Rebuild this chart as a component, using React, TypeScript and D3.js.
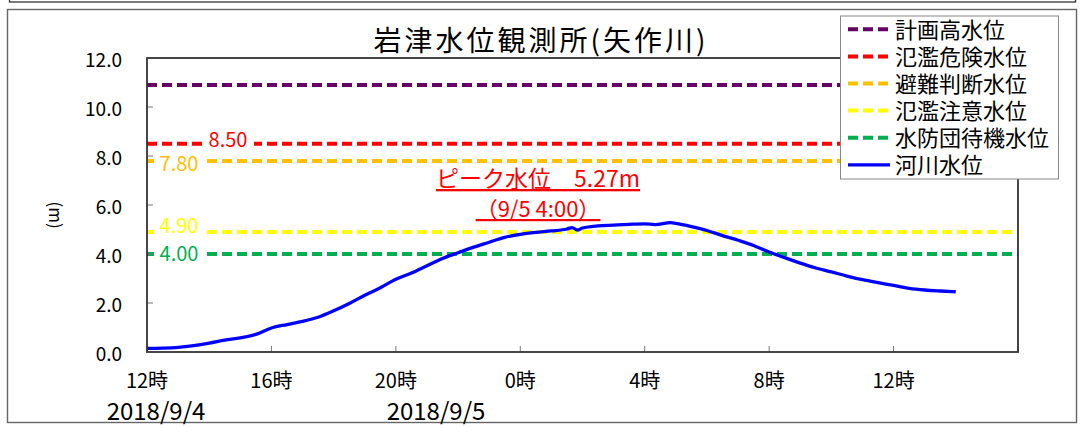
import React, { useEffect, useRef } from 'react';
import * as d3 from 'd3';

// river level observations (time, m)
const times = [
  '9/4 12:00', '9/4 12:30', '9/4 13:00', '9/4 13:30', '9/4 14:00', '9/4 14:30',
  '9/4 15:00', '9/4 15:30', '9/4 16:00', '9/4 16:30', '9/4 17:00', '9/4 17:30',
  '9/4 18:00', '9/4 18:30', '9/4 19:00', '9/4 19:30', '9/4 20:00', '9/4 20:30',
  '9/4 21:00', '9/4 21:30', '9/4 22:00', '9/4 22:30', '9/4 23:00', '9/4 23:30',
  '9/5 0:00', '9/5 0:30', '9/5 1:00', '9/5 1:30', '9/5 1:40', '9/5 1:50',
  '9/5 2:00', '9/5 2:30', '9/5 3:00', '9/5 3:30', '9/5 4:00', '9/5 4:20',
  '9/5 4:50', '9/5 5:00', '9/5 5:30', '9/5 6:00', '9/5 6:30', '9/5 7:00',
  '9/5 7:30', '9/5 8:00', '9/5 8:30', '9/5 9:00', '9/5 9:30', '9/5 10:00',
  '9/5 10:30', '9/5 11:00', '9/5 11:30', '9/5 12:00', '9/5 12:30', '9/5 13:00',
  '9/5 13:30', '9/5 14:00',
];
const levels = [
  0.15, 0.16, 0.19, 0.26, 0.36, 0.48,
  0.58, 0.72, 0.98, 1.12, 1.25, 1.42,
  1.68, 1.98, 2.32, 2.62, 2.97, 3.22,
  3.52, 3.82, 4.05, 4.28, 4.48, 4.68,
  4.8, 4.88, 4.94, 5.02, 5.08, 4.98,
  5.06, 5.15, 5.18, 5.21, 5.23, 5.2,
  5.28, 5.25, 5.12, 4.96, 4.75, 4.56,
  4.35, 4.08, 3.85, 3.63, 3.43, 3.27,
  3.1, 2.95, 2.83, 2.72, 2.6, 2.53,
  2.49, 2.46,
];

// reference levels
const thresholdNames = ['計画高水位', '氾濫危険水位', '避難判断水位', '氾濫注意水位', '水防団待機水位'];
const thresholdValues = [10.9, 8.5, 7.8, 4.9, 4.0];
const thresholdLabels = ['', '8.50', '7.80', '4.90', '4.00'];
const thresholdColors = ['#660066', '#ff0000', '#ffc000', '#ffff00', '#00b050'];
// label placement (x centre, vertical nudge)
const labelX = [0, 228, 179, 179, 179];
const labelDy = [0, -4, 3, -6, 0];

const riverName = '河川水位';
const riverColor = '#0000ff';

const yTicks = [0, 2, 4, 6, 8, 10, 12];
const xTickLabels = ['12時', '16時', '20時', '0時', '4時', '8時', '12時'];
const dateLabels = ['2018/9/4', '2018/9/5'];
const title = '岩津水位観測所(矢作川)';
const peakText = 'ピーク水位　5.27m';
const peakTimeText = '（9/5 4:00）';

const FONT = '"Noto Sans CJK JP", "Noto Sans", sans-serif';

function App() {
  const svgRef = useRef<SVGSVGElement>(null);

  useEffect(() => {
    const svg = d3.select(svgRef.current);
    svg.selectAll('*').remove();

    const parse = d3.timeParse('%Y/%m/%d %H:%M');
    const data = times.map((t, i) => ({ t: parse('2018/' + t) as Date, v: levels[i] }));

    const left = 147;
    const right = 1018;
    const top = 58;
    const bottom = 352;

    const x = d3
      .scaleTime()
      .domain([parse('2018/9/4 12:00') as Date, parse('2018/9/5 16:00') as Date])
      .range([left, right]);
    const y = d3.scaleLinear().domain([0, 12]).range([bottom, top]);

    svg.append('rect').attr('width', 1081).attr('height', 428).attr('fill', '#fff');

    // frames
    svg
      .append('rect')
      .attr('x', 9.5)
      .attr('y', -20)
      .attr('width', 1066)
      .attr('height', 22)
      .attr('fill', 'none')
      .attr('stroke', '#333')
      .attr('stroke-width', 1.3);
    svg
      .append('rect')
      .attr('x', 7.5)
      .attr('y', 9.5)
      .attr('width', 1069)
      .attr('height', 413)
      .attr('fill', 'none')
      .attr('stroke', '#666')
      .attr('stroke-width', 1.4);

    // title
    svg
      .append('text')
      .attr('x', 541)
      .attr('y', 51)
      .attr('text-anchor', 'middle')
      .style('font-family', FONT)
      .style('font-size', '28px')
      .style('letter-spacing', '3px')
      .style('fill', '#000')
      .text(title);

    // threshold lines
    thresholdValues.forEach((v, i) => {
      svg
        .append('line')
        .attr('x1', left)
        .attr('x2', right)
        .attr('y1', y(v))
        .attr('y2', y(v))
        .attr('stroke', thresholdColors[i])
        .attr('stroke-width', 4)
        .attr('stroke-dasharray', '10,5');
      if (thresholdLabels[i]) {
        svg
          .append('rect')
          .attr('x', labelX[i] - 25)
          .attr('y', y(v) - 6)
          .attr('width', 51)
          .attr('height', 12)
          .attr('fill', '#fff');
        svg
          .append('text')
          .attr('x', labelX[i])
          .attr('y', y(v) + labelDy[i] + 7)
          .attr('text-anchor', 'middle')
          .style('font-family', FONT)
          .style('font-size', '20px')
          .style('fill', thresholdColors[i])
          .text(thresholdLabels[i]);
      }
    });

    // river level
    const line = d3
      .line<{ t: Date; v: number }>()
      .x((d) => x(d.t))
      .y((d) => y(d.v))
      .curve(d3.curveMonotoneX);
    svg
      .append('path')
      .datum(data)
      .attr('d', line)
      .attr('fill', 'none')
      .attr('stroke', riverColor)
      .attr('stroke-width', 3.3);

    // axes ticks
    yTicks.forEach((t) => {
      if (t > 0 && t < 12) {
        svg
          .append('line')
          .attr('x1', left)
          .attr('x2', left + 6)
          .attr('y1', y(t))
          .attr('y2', y(t))
          .attr('stroke', '#777')
          .attr('stroke-width', 1);
      }
      svg
        .append('text')
        .attr('x', 122)
        .attr('y', y(t) + 9)
        .attr('text-anchor', 'end')
        .style('font-family', FONT)
        .style('font-size', '19px')
        .style('fill', '#000')
        .text(t.toFixed(1));
    });

    const xTicks = x.ticks(d3.timeHour.every(4) as d3.TimeInterval);
    xTicks.forEach((t, i) => {
      svg
        .append('line')
        .attr('x1', x(t))
        .attr('x2', x(t))
        .attr('y1', bottom)
        .attr('y2', bottom - 6)
        .attr('stroke', '#777')
        .attr('stroke-width', 1);
      if (xTickLabels[i]) {
        svg
          .append('text')
          .attr('x', x(t))
          .attr('y', 388)
          .attr('text-anchor', 'middle')
          .style('font-family', FONT)
          .style('font-size', '20px')
          .style('fill', '#000')
          .text(xTickLabels[i]);
      }
    });

    // date labels
    [156, 436].forEach((cx, i) => {
      svg
        .append('text')
        .attr('x', cx)
        .attr('y', 420)
        .attr('text-anchor', 'middle')
        .style('font-family', FONT)
        .style('font-size', '24px')
        .style('fill', '#000')
        .text(dateLabels[i]);
    });

    // y label
    svg
      .append('text')
      .attr('transform', 'translate(55,215) rotate(90)')
      .attr('text-anchor', 'middle')
      .attr('dy', '0.35em')
      .style('font-family', FONT)
      .style('font-size', '17px')
      .style('fill', '#000')
      .text('(m)');

    // plot frame
    svg
      .append('rect')
      .attr('x', left)
      .attr('y', top)
      .attr('width', right - left)
      .attr('height', bottom - top)
      .attr('fill', 'none')
      .attr('stroke', '#333')
      .attr('stroke-width', 1.8);

    // peak annotation
    svg
      .append('text')
      .attr('x', 538)
      .attr('y', 187)
      .attr('text-anchor', 'middle')
      .attr('text-decoration', 'underline')
      .style('font-family', FONT)
      .style('font-size', '23px')
      .style('fill', '#ff0000')
      .text(peakText);
    svg
      .append('text')
      .attr('x', 538)
      .attr('y', 217)
      .attr('text-anchor', 'middle')
      .attr('text-decoration', 'underline')
      .style('font-family', FONT)
      .style('font-size', '22px')
      .style('fill', '#ff0000')
      .text(peakTimeText);

    // legend
    const lg = svg.append('g');
    lg.append('rect')
      .attr('x', 840.5)
      .attr('y', 16)
      .attr('width', 218)
      .attr('height', 163)
      .attr('fill', '#fff')
      .attr('stroke', '#888')
      .attr('stroke-width', 1);
    const items = thresholdNames
      .map((n, i) => ({ name: n, color: thresholdColors[i], dash: '10,5' }))
      .concat([{ name: riverName, color: riverColor, dash: '' }]);
    items.forEach((d, i) => {
      const cy = 29.3 + i * 27.1;
      lg.append('line')
        .attr('x1', 848)
        .attr('x2', 890)
        .attr('y1', cy)
        .attr('y2', cy)
        .attr('stroke', d.color)
        .attr('stroke-width', d.dash ? 4 : 3.3)
        .attr('stroke-dasharray', d.dash || null);
      lg.append('text')
        .attr('x', 895)
        .attr('y', cy + 8.3)
        .style('font-family', FONT)
        .style('font-size', '22px')
        .style('fill', '#000')
        .text(d.name);
    });
  }, []);

  return (
    <svg
      ref={svgRef}
      width={1081}
      height={428}
      style={{ position: 'absolute', left: 0, top: 0 }}
    />
  );
}

export default App;
